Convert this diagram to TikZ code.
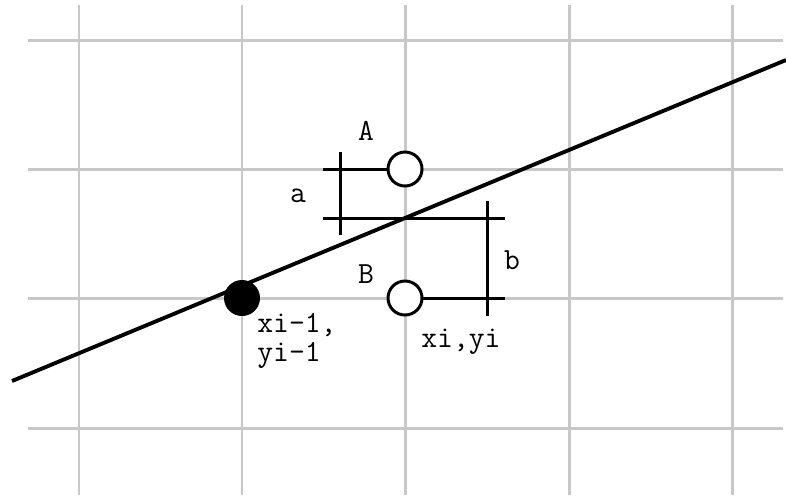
\documentclass[tikz,border=0pt]{standalone}
\usepackage{fontspec}
\usetikzlibrary{positioning}
\definecolor{gridgray}{RGB}{200,200,200}

\begin{document}
\begin{tikzpicture}[
    x=0.02cm, y=-0.02cm,
    gridline/.style={draw=gridgray, line width=1.7pt},
    fitline/.style={draw=black, line width=2.2pt},
    markline/.style={draw=black, line width=1.7pt},
    hollowpix/.style={circle, draw=black, line width=1.7pt, fill=white, minimum size=0.68cm, inner sep=0pt},
    filledpix/.style={circle, fill=black, minimum size=0.72cm, inner sep=0pt},
    lbl/.style={font=\fontsize{17.5}{16.5}\selectfont\ttfamily, inner sep=0pt}
]
\useasboundingbox (0,0) rectangle (786,495);

% Pixel grid
\foreach \gx in {79,242,405,569,732}
    \draw[gridline] (\gx,5) -- (\gx,495);
\foreach \gy in {40,169,298,428}
    \draw[gridline] (28,\gy) -- (783,\gy);

% The ideal line
\coordinate (lineL) at (12,381);
\coordinate (lineR) at (786,60);
\draw[fitline] (lineL) -- (lineR);

% Pixels
\node[filledpix] (prev) at (242,298) {};
\node[hollowpix] (pixA) at (405,169) {};
\node[hollowpix] (pixB) at (405,298) {};

% Distance marks
\coordinate (aTop) at (340,152);
\coordinate (aBot) at (340,235);
\coordinate (aTick) at (323,169);
\coordinate (midL) at (323,218);
\coordinate (midR) at (505,218);
\coordinate (bTop) at (487,201);
\coordinate (bBot) at (487,316);
\coordinate (bTick) at (505,298);
\draw[markline] (aTick) -- (pixA.west);
\draw[markline] (aTop) -- (aBot);
\draw[markline] (midL) -- (midR);
\draw[markline] (bTop) -- (bBot);
\draw[markline] (pixB.east) -- (bTick);

% Labels
\node[lbl] (labA) at (366,131) {A};
\node[lbl] (laba) at (298,196) {a};
\node[lbl] (labb) at (512,260) {b};
\node[lbl] (labB) at (366,274) {B};
\node[lbl, align=left, anchor=north west] (labprev) at (257,313) {xi-1,\\yi-1};
\node[lbl, anchor=west] (labcur) at (421,342) {xi,yi};
\end{tikzpicture}
\end{document}
